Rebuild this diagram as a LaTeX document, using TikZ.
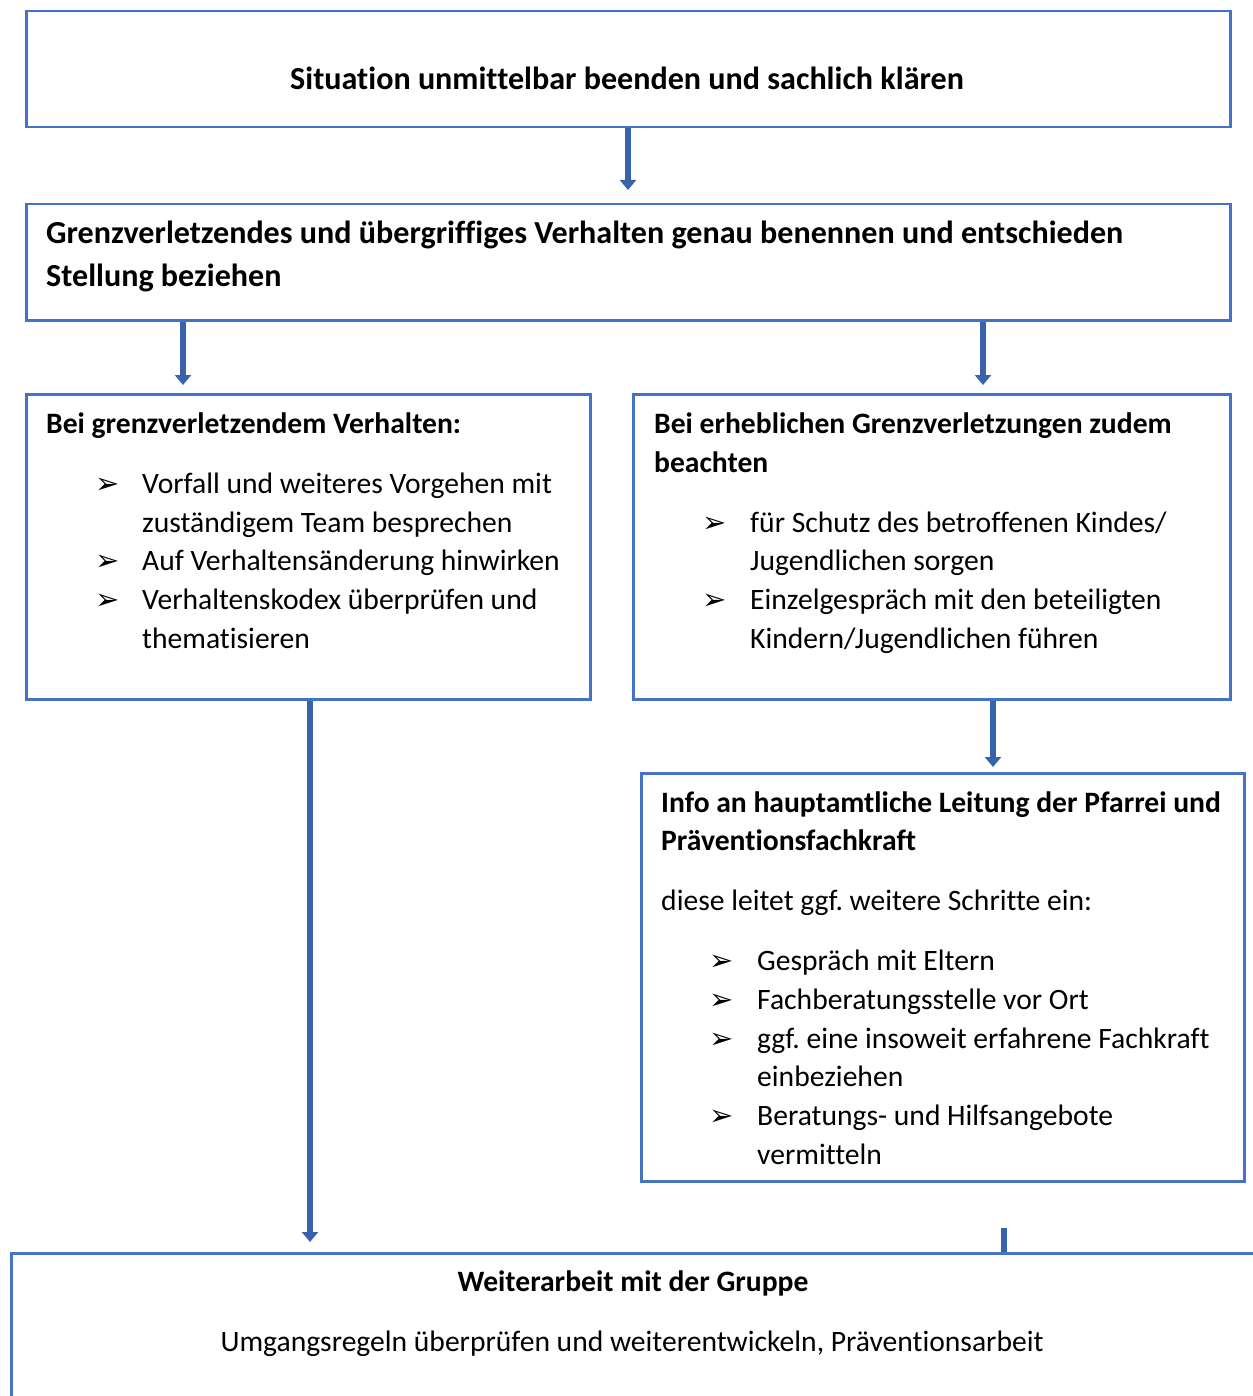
\documentclass[tikz,border=0pt]{standalone}
\usepackage{fontspec}
\setmainfont[Ligatures=NoCommon]{Carlito}
\newfontfamily\symfont{DejaVu Sans}
\usetikzlibrary{arrows.meta}
\definecolor{boxblue}{HTML}{4472C4}
\definecolor{arrblue}{HTML}{3862AC}
\frenchspacing
\begin{document}
\begin{tikzpicture}[x=1pt,y=-1pt,
  box/.style={draw=boxblue, line width=2.5pt, anchor=north west, inner sep=0pt},
  txt/.style={anchor=base west, inner sep=0pt, font=\fontsize{29.6}{39}\selectfont},
  btxt/.style={txt, font=\fontsize{29.6}{39}\selectfont\bfseries},
  bigtxt/.style={txt, font=\fontsize{32.1}{43}\selectfont\bfseries},
  ctxt/.style={txt, anchor=base},
  cbtxt/.style={btxt, anchor=base},
  bul/.style={anchor=base west, inner sep=0pt, font=\fontsize{29}{30}\selectfont\symfont},
  blockarrow/.style={line width=6pt, draw=arrblue, -{Triangle[width=16pt,length=10pt]}},
  shaft/.style={line width=6pt, draw=arrblue}]
\useasboundingbox (0,0) rectangle (1252,1396);

% boxes
\node[box, minimum width=1204pt, minimum height=116pt] (b1) at (25,10) {};
\node[box, minimum width=1204pt, minimum height=116pt] (b2) at (25,203) {};
\node[box, minimum width=564pt, minimum height=305pt] (b3) at (25,393) {};
\node[box, minimum width=597pt, minimum height=305pt] (b4) at (632,393) {};
\node[box, minimum width=603pt, minimum height=408pt] (b6) at (640,772) {};
\node[box, minimum width=1280pt, minimum height=200pt] (b5) at (10,1252) {};

% texts box 1
\node[bigtxt, anchor=base] (t1) at (627,90) {Situation unmittelbar beenden und sachlich klären};
% box 2
\node[bigtxt] (t2a) at (46,244) {Grenzverletzendes und übergriffiges Verhalten genau benennen und entschieden};
\node[bigtxt] (t2b) at (46,287) {Stellung beziehen};
% box 3
\node[btxt] (t3) at (46,433) {Bei grenzverletzendem Verhalten:};
\node[bul] (u31) at (95,493) {➢};
\node[txt] (t31a) at (142,493) {Vorfall und weiteres Vorgehen mit};
\node[txt] (t31b) at (142,532) {zuständigem Team besprechen};
\node[bul] (u32) at (95,570) {➢};
\node[txt] (t32) at (142,570) {Auf Verhaltensänderung hinwirken};
\node[bul] (u33) at (95,609) {➢};
\node[txt] (t33a) at (142,609) {Verhaltenskodex überprüfen und};
\node[txt] (t33b) at (142,648) {thematisieren};
% box 4
\node[btxt] (t4a) at (654,433) {Bei erheblichen Grenzverletzungen zudem};
\node[btxt] (t4b) at (654,472) {beachten};
\node[bul] (u41) at (702,532) {➢};
\node[txt] (t41a) at (750,532) {für Schutz des betroffenen Kindes/};
\node[txt] (t41b) at (750,570) {Jugendlichen sorgen};
\node[bul] (u42) at (702,609) {➢};
\node[txt] (t42a) at (750,609) {Einzelgespräch mit den beteiligten};
\node[txt] (t42b) at (750,648) {Kindern/Jugendlichen führen};
% box 6
\node[btxt] (t6a) at (661,812) {Info an hauptamtliche Leitung der Pfarrei und};
\node[btxt] (t6b) at (661,850) {Präventionsfachkraft};
\node[txt] (t6c) at (661,910) {diese leitet ggf. weitere Schritte ein:};
\node[bul] (u61) at (709,970) {➢};
\node[txt] (t61) at (757,970) {Gespräch mit Eltern};
\node[bul] (u62) at (709,1009) {➢};
\node[txt] (t62) at (757,1009) {Fachberatungsstelle vor Ort};
\node[bul] (u63) at (709,1048) {➢};
\node[txt] (t63a) at (757,1048) {ggf. eine insoweit erfahrene Fachkraft};
\node[txt] (t63b) at (757,1086) {einbeziehen};
\node[bul] (u64) at (709,1125) {➢};
\node[txt] (t64a) at (757,1125) {Beratungs- und Hilfsangebote};
\node[txt] (t64b) at (757,1164) {vermitteln};
% box 5
\node[cbtxt] (t5a) at (633,1291) {Weiterarbeit mit der Gruppe};
\node[ctxt] (t5b) at (632,1351) {Umgangsregeln überprüfen und weiterentwickeln, Präventionsarbeit};

% connectors
\path (b1.south west) ++(603,0) coordinate (a1);
\draw[blockarrow, shorten >=13pt] (a1) -- (a1 |- b2.north);
\path (b2.south west) ++(158,0) coordinate (a2);
\draw[blockarrow, shorten >=8pt] (a2) -- (a2 |- b3.north);
\path (b2.south west) ++(958,0) coordinate (a3);
\draw[blockarrow, shorten >=8pt] (a3) -- (a3 |- b4.north);
\path (b3.south west) ++(285,0) coordinate (a4);
\draw[blockarrow, shorten >=10pt] (a4) -- (a4 |- b5.north);
\path (b4.south west) ++(361,0) coordinate (a5);
\draw[blockarrow, shorten >=5pt] (a5) -- (a5 |- b6.north);
\path (b6.south west) ++(364,45) coordinate (a6);
\draw[shaft] (a6) -- (a6 |- b5.north);
\end{tikzpicture}
\end{document}
